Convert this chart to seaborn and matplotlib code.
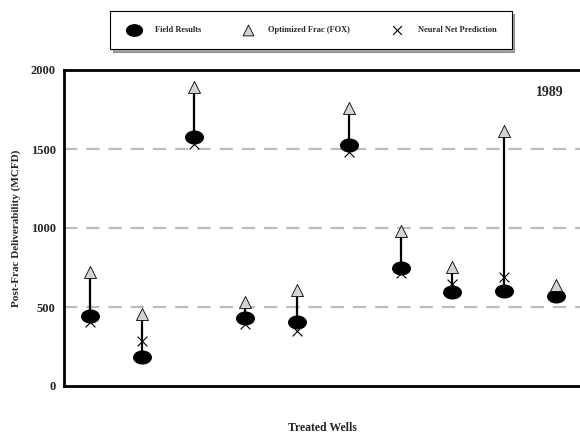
import numpy as np
import pandas as pd
import seaborn as sns
import matplotlib.pyplot as plt
from matplotlib.path import Path
from matplotlib.transforms import Affine2D

wells = [1, 2, 3, 4, 5, 6, 7, 8, 9, 10]
field_results = [445, 186, 1574, 428, 403, 1523, 749, 597, 603, 572]
optimized_fox = [723, 454, 1894, 530, 608, 1761, 983, 751, 1614, 641]
neural_net = [407, 285, 1530, 390, 350, 1483, 717, 646, 688, 580]

df = pd.DataFrame({"well": wells, "field": field_results,
                   "fox": optimized_fox, "nn": neural_net})

sns.set_style("white")
plt.rcParams['font.family'] = ['Liberation Serif', 'DejaVu Serif']
plt.rcParams['font.weight'] = 'bold'

fig = plt.figure(figsize=(5.8, 4.37), dpi=100)
ax = fig.add_axes([64 / 580, 51 / 437, 518 / 580, 316 / 437])

ellipse = Path.unit_circle().transformed(Affine2D().scale(1.0, 0.72))

ax.vlines(df["well"], df["field"], df["fox"], color="black", lw=1.6, zorder=2)
sns.scatterplot(data=df, x="well", y="nn", marker="x", s=50, color="black",
                linewidth=0.8, ax=ax, zorder=3, label="Neural Net Prediction")
sns.scatterplot(data=df, x="well", y="field", marker=ellipse, s=160, color="black",
                edgecolor="black", ax=ax, zorder=4, label="Field Results")
sns.scatterplot(data=df, x="well", y="fox", marker="^", s=75, color="#d4d4d4",
                edgecolor="black", linewidth=0.6, ax=ax, zorder=5,
                label="Optimized Frac (FOX)")

ax.set_xlim(0.5, 10.5)
ax.set_ylim(0, 2000)
ax.set_yticks([0, 500, 1000, 1500, 2000])
ax.set_xticks(wells)
ax.set_xticklabels([])
for y in [500, 1000, 1500]:
    ax.axhline(y, color="#bdbdbd", lw=1.6, ls=(0, (6, 4)), zorder=1)

for s in ["left", "bottom", "top"]:
    ax.spines[s].set_color("black")
    ax.spines[s].set_linewidth(2)
ax.spines["right"].set_visible(False)
ax.tick_params(axis="y", direction="out", length=4, color="#bdbdbd", width=1.5,
               labelsize=9, pad=2)
ax.tick_params(axis="x", direction="in", length=2, color="#dddddd", width=1.5)
for t in ax.get_yticklabels():
    t.set_fontweight("bold")

ax.set_ylabel("Post-Frac Deliverability (MCFD)", fontsize=8, fontweight="bold",
              labelpad=7)
ax.set_xlabel("Treated Wells", fontsize=8.5, fontweight="bold")
ax.xaxis.set_label_coords(258 / 518, -36 / 316)
fig.text(550 / 580, 1 - 93 / 437, "1989", fontsize=10, fontweight="bold",
         ha="center", va="center")

handles, labels = ax.get_legend_handles_labels()
order = [1, 2, 0]
ax.legend_.remove()
leg = fig.legend([handles[i] for i in order], [labels[i] for i in order],
                 loc="center", bbox_to_anchor=(311 / 580, 1 - 30 / 437), ncol=3,
                 frameon=True, shadow=True, fancybox=False, edgecolor="black",
                 prop={"size": 6, "weight": "bold"}, columnspacing=4.6,
                 handletextpad=1.5, borderpad=1.8, markerscale=0.9)
leg.get_frame().set_linewidth(0.8)

plt.savefig("out.png", dpi=100)
